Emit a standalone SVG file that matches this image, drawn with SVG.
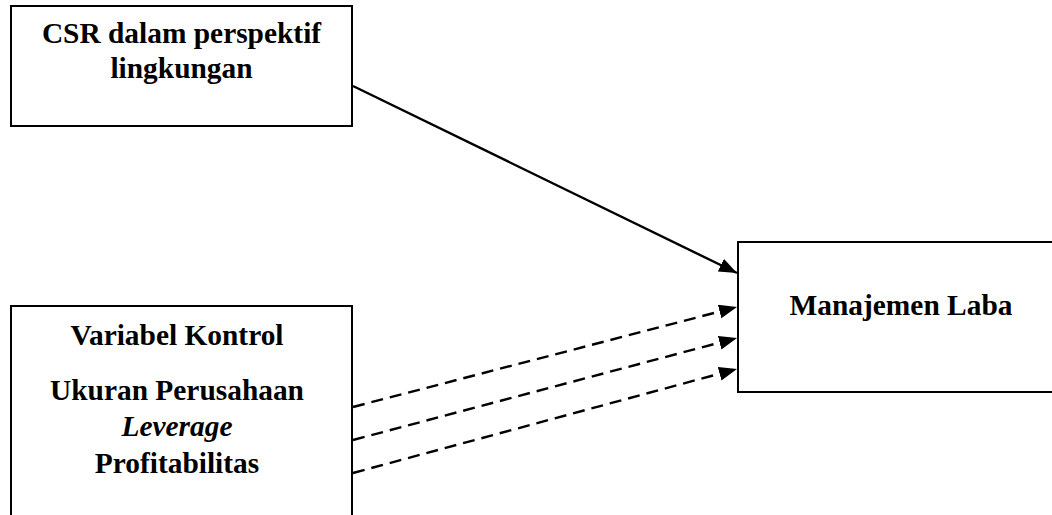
<svg xmlns="http://www.w3.org/2000/svg" width="1052" height="515" viewBox="0 0 1052 515">
<style>
.box{fill:#fff;stroke:#000;stroke-width:2}
.t{font-family:"Liberation Serif","Times New Roman",serif;font-weight:bold;font-size:29.4px;text-anchor:middle;fill:#000}
.i{font-style:italic}
.c{stroke:#000;stroke-width:2.4;fill:none}
.d{stroke-dasharray:12 7}
</style>
<defs>
<marker id="ah" markerUnits="userSpaceOnUse" markerWidth="20" markerHeight="16" refX="18" refY="7" orient="auto">
<path d="M0,0 L18,7 L0,14 z" fill="#000"/>
</marker>
</defs>
<rect width="1052" height="515" fill="#fff"/>
<g id="csr">
<rect class="box" x="11" y="6" width="341" height="120"/>
<text class="t" x="181.5" y="43">CSR dalam perspektif</text>
<text class="t" x="181.5" y="78">lingkungan</text>
</g>
<g id="manajemen">
<rect class="box" x="738" y="242" width="330" height="150"/>
<text class="t" x="901" y="315">Manajemen Laba</text>
</g>
<g id="kontrol">
<rect class="box" x="11" y="306" width="341" height="220"/>
<text class="t" x="177" y="345">Variabel Kontrol</text>
<text class="t" x="177" y="400">Ukuran Perusahaan</text>
<text class="t i" x="177" y="436">Leverage</text>
<text class="t" x="177" y="473">Profitabilitas</text>
</g>
<g id="connectors">
<line class="c" x1="353" y1="86" x2="737" y2="273" marker-end="url(#ah)"/>
<line class="c d" x1="353" y1="407" x2="737" y2="307" marker-end="url(#ah)"/>
<line class="c d" x1="353" y1="440" x2="737" y2="338" marker-end="url(#ah)"/>
<line class="c d" x1="353" y1="473" x2="737" y2="369" marker-end="url(#ah)"/>
</g>
</svg>
